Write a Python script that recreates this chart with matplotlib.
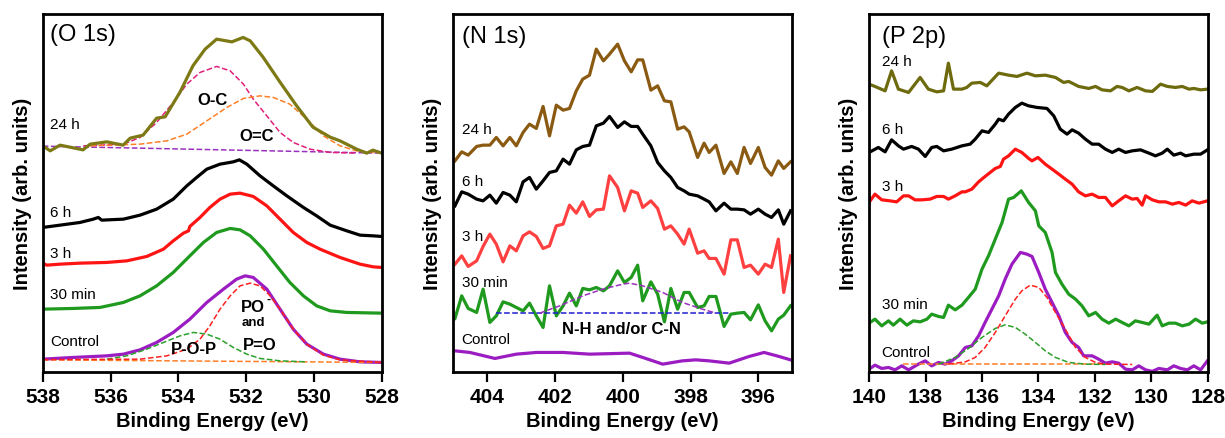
import matplotlib
matplotlib.use("Agg")
import matplotlib.pyplot as plt

plt.rcParams['font.family'] = ['Liberation Sans', 'DejaVu Sans']

# ---------------- O 1s ----------------
o_24h_x = [538.0, 537.78, 537.49, 536.81, 536.60, 536.11, 535.63, 535.42, 535.04, 534.64, 534.39,
           533.95, 533.57, 533.21, 532.87, 532.42, 532.09, 531.88, 531.50, 531.00, 530.51, 530.03,
           529.52, 529.23, 528.74, 528.44, 528.26, 528.0]
o_24h_y = [226.3, 221.3, 227, 222.3, 228, 230.3, 227, 234, 237, 254, 255.3,
           280, 306.3, 323, 333, 330.3, 334.7, 331.3, 315, 290, 266.3, 245,
           235, 231.3, 223, 219, 222, 219]
o_oc_x = [536.80, 535.62, 535.13, 534.64, 534.15, 533.75, 533.36, 532.87, 532.47, 532.08, 531.79,
          531.39, 531.00, 530.61, 530.12, 529.52, 528.74]
o_oc_y = [226.3, 228, 234.7, 249.7, 269.7, 288, 299.7, 305.7, 301.3, 288, 273,
          256.3, 239.7, 229.7, 223, 219.7, 219]
o_o2c_x = [536.60, 535.13, 534.34, 533.75, 533.16, 532.57, 532.08, 531.59, 531.20, 530.71, 530.21,
           529.72, 529.23, 528.74, 528.0]
o_o2c_y = [226.3, 228, 231.3, 238, 251.3, 264.7, 273.7, 276.3, 274.7, 268, 253,
           236.3, 226.3, 221.3, 219]
o_24h_base_x = [538.0, 533.0, 528.0]
o_24h_base_y = [226.0, 222.5, 219.0]

o_6h_x = [538.0, 537.49, 536.90, 536.51, 536.36, 536.26, 535.62, 535.13, 534.64, 534.15, 533.75,
          533.46, 533.16, 532.77, 532.38, 532.20, 531.98, 531.59, 531.20, 530.80, 530.31, 529.92,
          529.52, 529.03, 528.64, 528.25, 528.0]
o_6h_y = [144.7, 147, 149.7, 153, 154.7, 152, 153, 157, 163, 173, 186.3,
          194.7, 203, 208, 210.3, 212.3, 208, 196.3, 186.3, 176.3, 164.7, 156.3,
          147, 141.3, 137, 136.3, 135.7]

o_3h_x = [538.0, 537.88, 537.49, 536.90, 536.11, 535.52, 534.93, 534.44, 534.15, 533.85, 533.70,
          533.66, 533.36, 533.07, 532.77, 532.47, 532.18, 531.79, 531.39, 531.00, 530.61, 530.21,
          529.82, 529.23, 528.64, 528.25, 528.0]
o_3h_y = [109, 107, 108, 109, 109.7, 111.3, 115.7, 123, 131.3, 139, 141.3,
          145.7, 154.7, 164.7, 173, 178, 179, 175.7, 166.3, 153, 139.7, 129.7,
          123, 114.7, 108, 105.3, 104.7]

o_30m_x = [538.0, 537.10, 536.31, 535.62, 535.13, 534.64, 534.15, 533.66, 533.26, 532.87, 532.47,
           532.18, 531.88, 531.49, 531.10, 530.71, 530.31, 529.92, 529.52, 529.03, 528.0]
o_30m_y = [63, 63.7, 64.7, 69.7, 76.3, 86.3, 99.7, 116.3, 129.7, 139.7, 143.7,
           142.3, 136.3, 123, 106.3, 89.7, 76.3, 66.3, 61.3, 59.7, 59]

o_ctrl_x = [538.0, 537.10, 536.11, 535.62, 535.13, 534.64, 534.15, 533.66, 533.16, 532.67, 532.28,
            532.03, 531.79, 531.39, 531.00, 530.61, 530.21, 529.72, 529.23, 528.64, 528.0]
o_ctrl_y = [13, 14.7, 16.3, 18, 22.3, 29.7, 39.7, 53, 69.7, 83, 93,
            96.3, 94.7, 83, 63, 43, 28, 18, 13, 10.3, 9.7]
o_po_x = [538.0, 535.13, 534.34, 533.75, 533.36, 533.07, 532.77, 532.47, 532.18, 531.88, 531.59,
          531.29, 531.00, 530.61, 530.21, 529.72, 529.23, 528.0]
o_po_y = [12.5, 13, 16.3, 23, 33, 46.3, 63, 76.3, 86.3, 89, 86.3,
          76.3, 63, 43, 28, 17, 12.3, 9.7]
o_pop_x = [536.11, 535.52, 534.93, 534.44, 533.95, 533.56, 533.16, 532.77, 532.38, 531.98, 531.59,
           531.00, 530.21]
o_pop_y = [13, 16.3, 23, 29.7, 36.3, 39.7, 38, 33, 24.7, 18, 13.7,
           11.3, 10.3]
o_ctrl_base_x = [538.0, 533.0, 528.0]
o_ctrl_base_y = [12.3, 11.0, 9.7]

# ---------------- N 1s ----------------
n_x = [404.95, 404.75, 404.56, 404.31, 404.12, 403.92, 403.73, 403.53, 403.33, 403.14, 402.94,
       402.75, 402.55, 402.35, 402.16, 401.96, 401.76, 401.57, 401.37, 401.18, 400.98, 400.78,
       400.57, 400.39, 400.15, 399.95, 399.75, 399.56, 399.41, 399.17, 398.97, 398.77, 398.58,
       398.38, 398.19, 398.04, 397.79, 397.60, 397.45, 397.25, 397.01, 396.81, 396.62, 396.42,
       396.23, 396.00, 395.80, 395.61, 395.41, 395.25, 395.05]
n_24h_y = [211.3, 220.3, 217, 225.7, 227, 227, 234.7, 226.3, 234.7, 226.3, 239.7,
           248, 243.7, 265.7, 236.3, 267, 262, 263.7, 281.3, 293, 297, 323,
           311.3, 318, 328, 311.3, 300.3, 312.3, 312.3, 282, 286.3, 271.3, 270.3,
           243, 245.3, 240.3, 214.7, 229, 219.7, 227, 198.7, 210.3, 198.7, 224.7,
           208.7, 224.7, 204.7, 197, 211.3, 203.7, 210.3]
n_6h_y = [166.3, 180.3, 178, 173, 171.3, 177, 169, 179.7, 177, 170.3, 190.3,
          194.7, 183, 191.3, 199.7, 201.3, 213, 208, 222.3, 225.7, 227, 246.3,
          249, 255.7, 244.7, 250.3, 245.7, 245.7, 238, 226.3, 209.7, 201.3, 194.7,
          184.7, 181.3, 178, 176.3, 173, 170.3, 161.3, 169, 163, 163, 162.3,
          158, 163, 158, 154.7, 162.3, 148, 161.3]
n_3h_y = [108, 116.3, 105.7, 111.3, 125.7, 138, 128, 110.3, 126.3, 121.3, 136.3,
          140.3, 135.7, 123.7, 126.3, 146.3, 148, 167, 159, 170.3, 155.7, 162.3,
          163, 196.3, 184.7, 161.3, 181.3, 179, 164.7, 171.3, 163.7, 143, 146.3,
          138, 128, 143, 119, 121.3, 113.7, 113.7, 98, 132.3, 132.3, 104.7,
          107, 98, 108, 104.7, 133, 79.7, 116.3]
n_30m_y = [53.7, 76.3, 63.7, 59.7, 83, 49.7, 56.3, 70.3, 68, 64.7, 61.3,
           69, 56.3, 44.7, 86.3, 56.3, 66.3, 79, 66.3, 83.7, 82.3, 84.7,
           81.3, 86.3, 101.3, 89.7, 94.7, 107, 71.3, 90.3, 78, 50.3, 83.7,
           63, 79.7, 79.7, 64.7, 66.3, 75.7, 75.7, 45.7, 58, 59, 59.7,
           52.3, 67.3, 51.3, 41.3, 53, 57, 66.3]
n_nh_x = [402.45, 401.86, 401.18, 400.59, 400.00, 399.80, 399.41, 398.82, 398.24, 397.65, 397.25]
n_nh_y = [59, 66.3, 76.3, 83, 88, 89, 86.3, 79.7, 69.7, 63, 59]
n_base_x = [403.73, 396.86]
n_base_y = [59, 59]
n_ctrl_x = [404.95, 404.51, 403.77, 403.14, 402.55, 401.76, 400.98, 399.80, 399.41, 398.82, 398.24,
            397.84, 397.45, 396.86, 396.27, 395.83, 395.39, 395.05]
n_ctrl_y = [21.3, 19.7, 13.7, 18, 19.7, 19.7, 18, 19, 14.7, 8, 11.3,
            12.3, 11.3, 9, 15.7, 19.7, 15.7, 12.3]

# ---------------- P 2p ----------------
p_24h_x = [140.0, 139.79, 139.43, 139.20, 138.96, 138.60, 138.19, 137.90, 137.60, 137.36, 137.19,
           137.01, 136.71, 136.54, 136.36, 136.06, 135.83, 135.41, 135.06, 134.76, 134.41, 134.11,
           133.76, 133.40, 133.11, 132.93, 132.58, 132.22, 131.98, 131.75, 131.45, 131.22, 131.04,
           130.80, 130.51, 130.21, 129.97, 129.68, 129.44, 129.15, 128.91, 128.67, 128.50, 128.26, 128.02]
p_24h_y = [288, 285.7, 281.3, 301.3, 283, 279.7, 294.7, 283, 280.3, 281.3, 309,
           283, 283, 284.7, 289, 289.7, 286.3, 299, 297, 295.7, 299, 296.3,
           297, 294.7, 289.7, 290.7, 285.7, 283.7, 285.7, 282.3, 281.3, 285.7, 284.7,
           281.3, 284.7, 281.3, 280.7, 288, 285.7, 284.7, 285.7, 283, 283.7, 282.3, 283]
p_6h_x = [140.0, 139.67, 139.43, 139.20, 138.96, 138.78, 138.49, 138.25, 138.01, 137.78, 137.60,
          137.36, 137.07, 136.71, 136.42, 136.24, 136.00, 135.77, 135.53, 135.41, 135.24, 135.06,
          134.82, 134.59, 134.35, 134.05, 133.70, 133.46, 133.23, 132.99, 132.81, 132.58, 132.34,
          132.10, 131.87, 131.63, 131.39, 131.16, 130.92, 130.68, 130.39, 130.09, 129.86, 129.62,
          129.44, 129.21, 128.97, 128.79, 128.50, 128.26, 128.02]
p_6h_y = [219.7, 224.7, 220.3, 232.3, 226.3, 223, 225.7, 223, 215.7, 224.7, 225.7,
          221.3, 223, 226.3, 228, 233, 241.3, 239.7, 248, 253, 251.3, 258,
          264.7, 269, 266.3, 264.7, 263.7, 256.3, 243, 238, 242.3, 239, 233,
          228, 228, 223, 219.7, 223, 219.7, 221.3, 222.3, 219, 216.3, 219,
          223, 217, 219, 216.3, 218, 218, 222.3]
p_3h_x = [140.0, 139.79, 139.55, 139.26, 139.02, 138.78, 138.60, 138.37, 138.13, 137.84, 137.60,
          137.36, 137.19, 136.95, 136.71, 136.59, 136.36, 136.12, 135.89, 135.71, 135.53, 135.35,
          135.24, 135.06, 134.82, 134.59, 134.35, 134.23, 134.02, 133.76, 133.52, 133.28, 133.05,
          132.81, 132.58, 132.34, 132.10, 131.87, 131.63, 131.39, 131.16, 130.92, 130.68, 130.51,
          130.33, 130.21, 129.97, 129.74, 129.50, 129.26, 129.03, 128.79, 128.56, 128.32, 128.02]
p_3h_y = [169.7, 178, 172.3, 171.3, 170.3, 176.3, 176.3, 172.3, 172.3, 173, 175.7,
          175.7, 173, 176.3, 180.3, 180.3, 183, 190.3, 195.7, 199.7, 203.7, 205.7,
          213, 216.3, 223, 219.7, 213.7, 211.3, 214.7, 208, 203, 198, 193,
          188, 180.3, 176.3, 178, 174.7, 174.7, 166.3, 171.3, 176.3, 173, 173.7,
          167, 176.3, 172.3, 170.3, 170.3, 168, 169.7, 167, 171.3, 169, 171.3]
p_30m_x = [140.0, 139.79, 139.55, 139.31, 139.14, 138.90, 138.66, 138.43, 138.19, 137.95, 137.78,
           137.54, 137.36, 137.19, 136.95, 136.71, 136.48, 136.24, 136.00, 135.77, 135.53, 135.29,
           135.06, 134.88, 134.61, 134.35, 134.11, 133.99, 133.76, 133.52, 133.40, 133.17, 132.93,
           132.69, 132.46, 132.22, 131.98, 131.75, 131.51, 131.27, 131.04, 130.80, 130.57, 130.33,
           130.09, 129.80, 129.62, 129.38, 129.15, 128.91, 128.67, 128.44, 128.20, 128.02]
p_30m_y = [49, 53, 46.3, 51.3, 47, 53, 47, 51.3, 50.3, 53, 58,
           55.7, 54.7, 67, 62.3, 67, 74.7, 83, 103, 116.3, 133, 149.7,
           173, 174.7, 181.3, 169.7, 161.3, 146.3, 139.7, 119.7, 99.7, 88, 78,
           73, 66.3, 56.3, 59.7, 53, 49, 53, 49.7, 46.3, 51.3, 49.7,
           48, 57, 46.3, 49, 49, 46.3, 48, 53, 49, 50.3]
p_ctrl_x = [140.0, 139.79, 139.55, 139.31, 139.08, 138.84, 138.60, 138.25, 138.01, 137.78, 137.54,
            137.30, 137.07, 136.83, 136.59, 136.36, 136.12, 135.89, 135.65, 135.41, 135.18, 134.94,
            134.64, 134.41, 134.23, 133.99, 133.76, 133.52, 133.28, 133.05, 132.81, 132.58, 132.40,
            132.10, 131.87, 131.63, 131.39, 131.16, 130.92, 130.68, 130.45, 130.21, 129.97, 129.74,
            129.44, 129.21, 128.97, 128.73, 128.50, 128.26, 128.02]
p_ctrl_y = [3, 7, 3.7, 4.7, 2.3, 6.3, 2.3, 8, 11.3, 6.3, 9.7,
            8, 11.3, 16.3, 24.7, 26.3, 36.3, 49.7, 63, 76.3, 93, 108,
            119.7, 118, 115.7, 99.7, 83, 69.7, 56.3, 39.7, 29.7, 24.7, 16.3,
            16.3, 13, 9, 10.3, 9, 3, 2.3, 6.3, 2.3, 0.8, 3.7,
            2.3, 6.3, 3.7, 2.3, 6.3, 2.3, 11.3]
p_fit1_x = [137.19, 136.59, 136.24, 135.89, 135.53, 135.18, 134.82, 134.59, 134.29, 133.99, 133.70,
            133.40, 133.05, 132.69, 132.34, 131.98, 131.63, 130.68]
p_fit1_y = [8, 10.3, 14.7, 24.7, 39.7, 56.3, 73, 81.3, 87, 84.7, 74.7,
            59.7, 43, 24.7, 14.7, 9.7, 8, 7.7]
p_fit2_x = [137.54, 136.95, 136.48, 136.00, 135.53, 135.18, 134.82, 134.47, 134.11, 133.76, 133.40,
            132.93, 132.34, 131.63]
p_fit2_y = [8, 14.7, 23.7, 34.7, 43.7, 47.3, 44.7, 38, 29.7, 21.3, 14.7,
            9.7, 8, 7.7]
p_base_x = [138.8, 131.6]
p_base_y = [8, 8]

# series labels (text, y position) per panel
labels_y = {'24 h': [248, 243, 311], '6 h': [160, 191, 243], '3 h': [119, 136, 186],
            '30 min': [78, 90, 68], 'Control': [31, 33, 20]}

RED = '#ff1414'
GREEN = '#1f9a1f'
PURPLE = '#9b1dc2'
LW = 2.3
DLW = 1.1

fig = plt.figure(figsize=(12.25, 4.39), dpi=100)
bottom, height, width = 0.150, 0.8155, 0.2767
ax1 = fig.add_axes([0.0349, bottom, width, height])
ax2 = fig.add_axes([0.3700, bottom, width, height])
ax3 = fig.add_axes([0.7094, bottom, width, height])

# O 1s
ax1.plot(o_24h_base_x, o_24h_base_y, '--', color='#9b30c0', lw=DLW)
ax1.plot(o_oc_x, o_oc_y, '--', color='#e0207a', lw=DLW)
ax1.plot(o_o2c_x, o_o2c_y, '--', color='#ff7f27', lw=DLW)
ax1.plot(o_24h_x, o_24h_y, color='#7d7a16', lw=LW)
ax1.plot(o_6h_x, o_6h_y, color='black', lw=LW)
ax1.plot(o_3h_x, o_3h_y, color=RED, lw=LW)
ax1.plot(o_30m_x, o_30m_y, color=GREEN, lw=LW)
ax1.plot(o_ctrl_x, o_ctrl_y, color=PURPLE, lw=LW)
ax1.plot(o_ctrl_base_x, o_ctrl_base_y, '--', color='#ff7f27', lw=DLW)
ax1.plot(o_pop_x, o_pop_y, '--', color='#2aa02a', lw=DLW)
ax1.plot(o_po_x, o_po_y, '--', color='#ff2020', lw=DLW)
ax1.set_xlim(538, 528)
ax1.set_xticks([538, 536, 534, 532, 530, 528])
ax1.text(537.78, 338, '(O 1s)', fontsize=17, va='center')
ax1.text(533.0, 273, 'O-C', fontsize=12, fontweight='bold', ha='center', va='center')
ax1.text(531.7, 237, 'O=C', fontsize=12, fontweight='bold', ha='center', va='center')
ax1.text(531.8, 66, 'PO', fontsize=12, fontweight='bold', ha='center', va='center')
ax1.text(531.40, 73, '-', fontsize=9, fontweight='bold', ha='left', va='center')
ax1.text(531.8, 50, 'and', fontsize=9.5, fontweight='bold', ha='center', va='center')
ax1.text(531.6, 28, 'P=O', fontsize=12, fontweight='bold', ha='center', va='center')
ax1.text(533.55, 24, 'P-O-P', fontsize=12, fontweight='bold', ha='center', va='center')

# N 1s
ax2.plot(n_x, n_24h_y, color='#8b5a12', lw=LW)
ax2.plot(n_x, n_6h_y, color='black', lw=LW)
ax2.plot(n_x, n_3h_y, color='#ff4040', lw=LW)
ax2.plot(n_x, n_30m_y, color=GREEN, lw=LW)
ax2.plot(n_base_x, n_base_y, '--', color='#1f1fd0', lw=DLW)
ax2.plot(n_nh_x, n_nh_y, '--', color='#9b30c0', lw=DLW)
ax2.plot(n_ctrl_x, n_ctrl_y, color=PURPLE, lw=LW)
ax2.set_xlim(405, 395)
ax2.set_xticks([404, 402, 400, 398, 396])
ax2.text(404.75, 336, '(N 1s)', fontsize=17, va='center')
ax2.text(400.05, 44, 'N-H and/or C-N', fontsize=12, fontweight='bold', ha='center', va='center')

# P 2p
ax3.plot(p_24h_x, p_24h_y, color='#6e6a0e', lw=LW)
ax3.plot(p_6h_x, p_6h_y, color='black', lw=LW)
ax3.plot(p_3h_x, p_3h_y, color=RED, lw=LW)
ax3.plot(p_30m_x, p_30m_y, color=GREEN, lw=LW)
ax3.plot(p_ctrl_x, p_ctrl_y, color=PURPLE, lw=LW)
ax3.plot(p_base_x, p_base_y, '--', color='#ff7f27', lw=DLW)
ax3.plot(p_fit2_x, p_fit2_y, '--', color='#2aa02a', lw=DLW)
ax3.plot(p_fit1_x, p_fit1_y, '--', color='#ff2020', lw=DLW)
ax3.set_xlim(140, 128)
ax3.set_xticks([140, 138, 136, 134, 132, 130, 128])
ax3.text(139.55, 336, '(P 2p)', fontsize=17, va='center')

label_x = [537.78, 404.75, 139.55]
for i, ax in enumerate([ax1, ax2, ax3]):
    for name, ys in labels_y.items():
        ax.text(label_x[i], ys[i], name, fontsize=11, va='center')
    ax.set_ylim(0, 358)
    ax.set_yticks([])
    ax.set_xlabel('Binding Energy (eV)', fontsize=14.5, fontweight='bold', labelpad=3)
    ax.set_ylabel('Intensity (arb. units)', fontsize=14.5, fontweight='bold', labelpad=8)
    ax.tick_params(axis='x', direction='out', length=7, width=1.6, labelsize=15, pad=4)
    for lab in ax.get_xticklabels():
        lab.set_fontweight('bold')
    for sp in ax.spines.values():
        sp.set_linewidth(2.0)

fig.savefig('out.png', dpi=100)
